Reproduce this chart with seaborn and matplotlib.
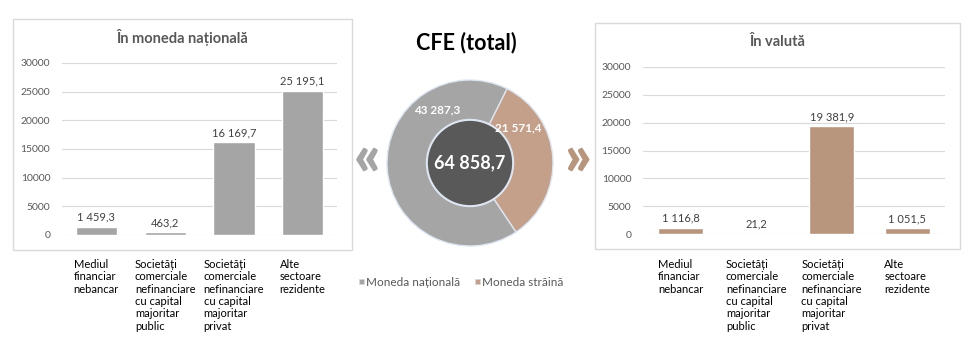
import matplotlib
matplotlib.use("Agg")
import matplotlib.pyplot as plt
import matplotlib.transforms as mtransforms
from matplotlib.patches import Rectangle, Circle
import seaborn as sns
import pandas as pd

# --- date ---
categorii = [
    "Mediul\nfinanciar\nnebancar",
    "Societăți\ncomerciale\nnefinanciare\ncu capital\nmajoritar\npublic",
    "Societăți\ncomerciale\nnefinanciare\ncu capital\nmajoritar\nprivat",
    "Alte\nsectoare\nrezidente",
]
moneda_nationala = [1459.3, 463.2, 16169.7, 25195.1]
valuta = [1116.8, 21.2, 19381.9, 1051.5]
total_nationala = 43287.3
total_straina = 21571.4
total_cfe = 64858.7
legenda = ["Moneda națională", "Moneda străină"]
y_ticks = [0, 5000, 10000, 15000, 20000, 25000, 30000]

GRI = "#A5A5A5"
MARO_BARA = "#B8967E"
MARO_DONUT = "#C4A08A"
GRI_INCHIS = "#595959"
TEXT = "#404040"

sns.set_theme(style="white")
plt.rcParams["font.family"] = ["Lato", "DejaVu Sans"]

W, H = 979, 358
fig = plt.figure(figsize=(W / 100, H / 100), dpi=100)


def px_axes(x0, y0, x1, y1):
    # coordonate in pixeli (origine sus-stanga)
    return fig.add_axes([x0 / W, (H - y1) / H, (x1 - x0) / W, (y1 - y0) / H])


def fmt(v):
    return f"{v:,.1f}".replace(",", " ").replace(".", ",")


def panou(box, plot, valori, culoare, titlu, titlu_y):
    bx0, by0, bx1, by1 = box
    fig.patches.append(Rectangle((bx0 / W, (H - by1) / H), (bx1 - bx0) / W, (by1 - by0) / H,
                                 transform=fig.transFigure, fill=False,
                                 edgecolor="#D9D9D9", linewidth=1))
    fig.text((bx0 + bx1) / 2 / W, (H - titlu_y) / H, titlu, ha="center", va="center",
             fontsize=10.5, fontweight="bold", color=GRI_INCHIS)
    ax = px_axes(*plot)
    df = pd.DataFrame({"cat": range(len(valori)), "val": valori})
    sns.barplot(data=df, x="cat", y="val", color=culoare, width=0.6,
                saturation=1, ax=ax, errorbar=None)
    ax.set_xlim(-0.5, len(valori) - 0.5)
    ax.set_ylim(0, 30000)
    ax.set_yticks(y_ticks)
    ax.set_yticklabels([str(t) for t in y_ticks], fontsize=7.5, color=GRI_INCHIS)
    ax.tick_params(axis="y", length=0, pad=8.5)
    ax.set_xticks([])
    ax.set_xlabel("")
    ax.set_ylabel("")
    ax.grid(axis="y", color="#D9D9D9", linewidth=0.8)
    ax.set_axisbelow(True)
    for s in ax.spines.values():
        s.set_visible(False)
    for i, v in enumerate(valori):
        ax.annotate(fmt(v), (i, v), xytext=(0, 3), textcoords="offset points",
                    ha="center", va="bottom", fontsize=8, color=TEXT)
    trans = mtransforms.blended_transform_factory(ax.transData, fig.transFigure)
    for i, c in enumerate(categorii):
        ax.text(i, (H - 259) / H, c, transform=trans, ha="center", va="top",
                multialignment="left", fontsize=8, color="black",
                linespacing=1.15, clip_on=False)
    return ax


panou((13, 19, 352, 250), (62, 63, 337, 235), moneda_nationala, GRI,
      "În moneda națională", 38)
panou((595, 23, 960, 249), (643, 67, 945, 234), valuta, MARO_BARA,
      "În valută", 42)

# --- donut ---
cx, cy, r = 470, 163, 83
pad = 90
axd = px_axes(cx - pad, cy - pad, cx + pad, cy + pad)
axd.pie([total_nationala, total_straina], colors=[GRI, MARO_DONUT],
        startangle=90 - 146.3, counterclock=False, radius=1,
        wedgeprops=dict(width=0.5, edgecolor="#DDE6F2", linewidth=1))
axd.add_patch(Circle((0, 0), 0.52, facecolor=GRI_INCHIS, edgecolor="#DDE6F2",
                     linewidth=1.5))
axd.set_xlim(-pad / r, pad / r)
axd.set_ylim(-pad / r, pad / r)
axd.set_aspect("equal")
axd.axis("off")
axd.text(0, 0, fmt(total_cfe), ha="center", va="center", fontsize=13,
         fontweight="bold", color="white")
axd.text((437 - cx) / r, (cy - 110) / r, fmt(total_nationala), ha="center",
         va="center", fontsize=8.5, fontweight="bold", color="white")
axd.text((518 - cx) / r, (cy - 128) / r, fmt(total_straina), ha="center",
         va="center", fontsize=8.5, fontweight="bold", color="white")

fig.text(466 / W, (H - 43) / H, "CFE (total)", ha="center", va="center",
         fontsize=15.5, fontweight="bold", color="black")
fig.text(367 / W, (H - 158) / H, "«", ha="center", va="center", fontsize=40,
         fontweight="heavy", color=GRI)
fig.text(577 / W, (H - 158) / H, "»", ha="center", va="center", fontsize=40,
         fontweight="heavy", color=MARO_BARA)

# legenda
for xm, lab, col in [(362, legenda[0], GRI), (478, legenda[1], MARO_DONUT)]:
    fig.patches.append(Rectangle(((xm - 3) / W, (H - 284) / H), 5 / W, 5 / H,
                                 transform=fig.transFigure, facecolor=col,
                                 edgecolor="#D9D9D9", linewidth=0.5))
    fig.text((xm + 4) / W, (H - 282) / H, lab, ha="left", va="center",
             fontsize=8.5, color=GRI_INCHIS)

fig.savefig("out.png", dpi=100, facecolor="white")
